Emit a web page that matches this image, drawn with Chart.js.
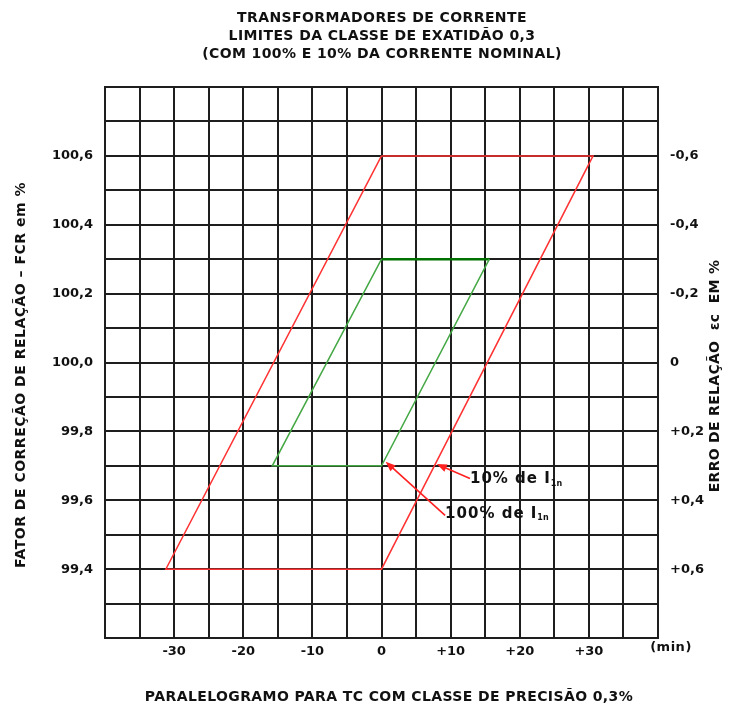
<!DOCTYPE html>
<html>
<head>
<meta charset="utf-8">
<style>
  html, body { margin: 0; padding: 0; background: #fff; }
  canvas { display: block; }
</style>
<script src="https://cdn.jsdelivr.net/npm/chart.js@4.4.1/dist/chart.umd.min.js"></script>
</head>
<body>
<canvas id="chart" width="729" height="706"></canvas>
<script>
// paralelogramo 10% de I1n (vermelho) e 100% de I1n (verde)
const redX = [0, 30.6, 0, -31.2, 0];
const redY = [100.6, 100.6, 99.4, 99.4, 100.6];
const greenX = [0, 15.6, 0, -15.8, 0];
const greenY = [100.3, 100.3, 99.7, 99.7, 100.3];

const xTicks = [-30, -20, -10, 0, 10, 20, 30];
const xTickLabels = ['-30', '-20', '-10', '0', '+10', '+20', '+30'];
const fcrTicks = [99.4, 99.6, 99.8, 100.0, 100.2, 100.4, 100.6];
const fcrTickLabels = ['99,4', '99,6', '99,8', '100,0', '100,2', '100,4', '100,6'];
const erroTickLabels = ['+0,6', '+0,4', '+0,2', '0', '-0,2', '-0,4', '-0,6'];

const titleLines = [
    'TRANSFORMADORES DE CORRENTE',
    'LIMITES DA CLASSE DE EXATIDÃO 0,3',
    '(COM 100% E 10% DA CORRENTE NOMINAL)'
];

// setas com texto (coordenadas em min / FCR)
const notes = [
    { tip: [8.0, 99.705], tail: [12.8, 99.663], text: '10% de I', sub: '1n', at: [12.8, 99.66] },
    { tip: [0.6, 99.712], tail: [9.2, 99.556], text: '100% de I', sub: '1n', at: [9.2, 99.56] }
];

function points(xs, ys) {
    return xs.map((x, i) => ({ x: x, y: ys[i] }));
}

function pickLabel(value, ticks, labels) {
    for (let i = 0; i < ticks.length; i++) {
        if (Math.abs(value - ticks[i]) < 1e-6) return labels[i];
    }
    return '';
}

const FAMILY = '"DejaVu Sans", Verdana, sans-serif';

const decorations = {
    id: 'decorations',
    afterDatasetsDraw(chart) {
        const ctx = chart.ctx;
        const xs = chart.scales.x;
        const ys = chart.scales.y;
        ctx.save();
        notes.forEach(n => {
            const x1 = xs.getPixelForValue(n.tail[0]);
            const y1 = ys.getPixelForValue(n.tail[1]);
            const x2 = xs.getPixelForValue(n.tip[0]);
            const y2 = ys.getPixelForValue(n.tip[1]);
            const ang = Math.atan2(y2 - y1, x2 - x1);
            ctx.strokeStyle = '#ff2020';
            ctx.fillStyle = '#ff2020';
            ctx.lineWidth = 1.6;
            ctx.beginPath();
            ctx.moveTo(x1, y1);
            ctx.lineTo(x2 - 6 * Math.cos(ang), y2 - 6 * Math.sin(ang));
            ctx.stroke();
            ctx.beginPath();
            ctx.moveTo(x2, y2);
            ctx.lineTo(x2 - 10 * Math.cos(ang) + 4 * Math.sin(ang), y2 - 10 * Math.sin(ang) - 4 * Math.cos(ang));
            ctx.lineTo(x2 - 10 * Math.cos(ang) - 4 * Math.sin(ang), y2 - 10 * Math.sin(ang) + 4 * Math.cos(ang));
            ctx.closePath();
            ctx.fill();

            const tx = xs.getPixelForValue(n.at[0]);
            const ty = ys.getPixelForValue(n.at[1]);
            ctx.fillStyle = '#111';
            ctx.font = 'bold 15px ' + FAMILY;
            ctx.letterSpacing = '1px';
            ctx.textAlign = 'left';
            ctx.textBaseline = 'middle';
            ctx.fillText(n.text, tx, ty);
            const w = ctx.measureText(n.text).width;
            ctx.font = 'bold 8px ' + FAMILY;
            ctx.letterSpacing = '0px';
            ctx.fillText(n.sub, tx + w, ty + 4);
        });
        ctx.restore();
    },
    afterDraw(chart) {
        const ctx = chart.ctx;
        ctx.save();
        ctx.fillStyle = '#111';
        ctx.font = 'bold 14px ' + FAMILY;
        ctx.letterSpacing = '0.4px';
        ctx.textAlign = 'center';
        ctx.textBaseline = 'middle';
        titleLines.forEach((t, i) => ctx.fillText(t, 382, 18 + i * 18));

        ctx.fillText('PARALELOGRAMO PARA TC COM CLASSE DE PRECISÃO 0,3%', 389, 697);

        ctx.font = 'bold 13px ' + FAMILY;
        ctx.letterSpacing = '0.5px';
        ctx.fillText('(min)', 671, 648);

        ctx.font = 'bold 14px ' + FAMILY;
        ctx.letterSpacing = '0.5px';
        ctx.save();
        ctx.translate(21, 375);
        ctx.rotate(-Math.PI / 2);
        ctx.fillText('FATOR DE CORREÇÃO DE RELAÇÃO – FCR em %', 0, 0);
        ctx.restore();

        ctx.letterSpacing = '0.3px';
        ctx.save();
        ctx.translate(715, 376);
        ctx.rotate(-Math.PI / 2);
        ctx.fillText('ERRO DE RELAÇÃO  εc  EM %', 0, 0);
        ctx.restore();
        ctx.restore();
    }
};

const tickFont = { family: FAMILY, size: 13, weight: 'bold' };

new Chart(document.getElementById('chart').getContext('2d'), {
    type: 'scatter',
    data: {
        datasets: [{
            data: points(redX, redY),
            showLine: true,
            borderColor: '#ff3333',
            borderWidth: 1.5,
            pointRadius: 0,
            fill: false
        }, {
            data: points(greenX, greenY),
            showLine: true,
            borderColor: '#45a845',
            borderWidth: 1.5,
            pointRadius: 0,
            fill: false,
            segment: {
                borderColor: c => c.p0DataIndex === 0 ? '#007000' : undefined,
                borderWidth: c => c.p0DataIndex === 0 ? 2.5 : undefined
            }
        }]
    },
    options: {
        responsive: false,
        animation: false,
        devicePixelRatio: 1,
        layout: { padding: { top: 87, left: 0, right: 0, bottom: 0 } },
        plugins: {
            legend: { display: false },
            tooltip: { enabled: false }
        },
        scales: {
            x: {
                type: 'linear',
                min: -40,
                max: 40,
                afterFit: s => { s.height = 68; },
                grid: { color: '#1e1e1e', lineWidth: 2, drawTicks: false },
                border: { color: '#1e1e1e', width: 2 },
                ticks: {
                    stepSize: 5,
                    padding: 6,
                    autoSkip: false,
                    maxRotation: 0,
                    color: '#111',
                    font: tickFont,
                    callback: v => pickLabel(v, xTicks, xTickLabels)
                }
            },
            y: {
                type: 'linear',
                position: 'left',
                min: 99.2,
                max: 100.8,
                afterFit: s => { s.width = 105; },
                grid: { color: '#1e1e1e', lineWidth: 2, drawTicks: false },
                border: { color: '#1e1e1e', width: 2 },
                ticks: {
                    stepSize: 0.1,
                    padding: 12,
                    autoSkip: false,
                    color: '#111',
                    font: tickFont,
                    callback: v => pickLabel(v, fcrTicks, fcrTickLabels)
                }
            },
            y2: {
                type: 'linear',
                position: 'right',
                min: 99.2,
                max: 100.8,
                afterFit: s => { s.width = 71; },
                grid: { display: false, drawTicks: false },
                border: { color: '#1e1e1e', width: 2 },
                ticks: {
                    stepSize: 0.1,
                    padding: 12,
                    autoSkip: false,
                    color: '#111',
                    font: tickFont,
                    callback: v => pickLabel(v, fcrTicks, erroTickLabels)
                }
            }
        }
    },
    plugins: [decorations]
});
</script>
</body>
</html>
